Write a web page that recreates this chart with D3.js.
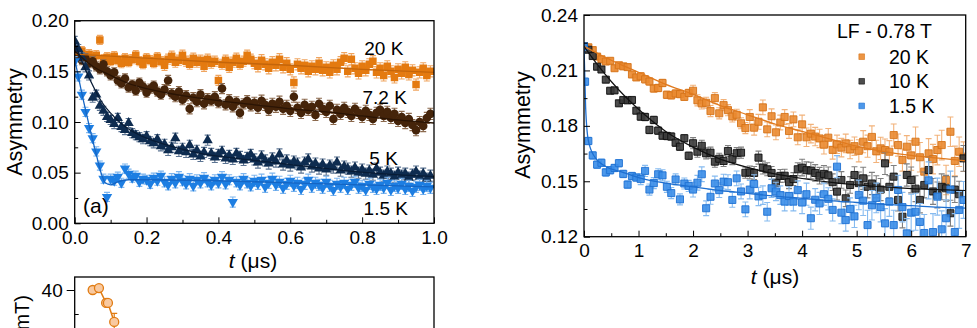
<!DOCTYPE html>
<meta charset="utf-8">
<style>
  body { margin: 0; background: #fff; }
  svg { display: block; font-family: "Liberation Sans", Arial, sans-serif; }
</style>
<svg width="977" height="328"></svg>
<script src="https://cdn.jsdelivr.net/npm/d3@7"></script>
<script>

// ---------- panel (a): zero field, 0 - 1 us, bins of 0.01 us ----------
const tStepA = 0.01
const asyA_20K = [
  0.172, 0.168, 0.170, 0.165, 0.167, 0.163, 0.166, 0.181, 0.162, 0.164,
  0.160, 0.165, 0.161, 0.158, 0.163, 0.159, 0.162, 0.166, 0.160, 0.157,
  0.163, 0.161, 0.158, 0.164, 0.160, 0.156, 0.162, 0.165, 0.159, 0.161,
  0.166, 0.160, 0.157, 0.163, 0.159, 0.161, 0.155, 0.162, 0.158, 0.160,
  0.141, 0.157, 0.161, 0.154, 0.159, 0.163, 0.157, 0.160, 0.166, 0.162,
  0.158, 0.155, 0.161, 0.157, 0.153, 0.159, 0.156, 0.162, 0.154, 0.158,
  0.152, 0.139, 0.157, 0.153, 0.156, 0.150, 0.155, 0.152, 0.158, 0.151,
  0.154, 0.149, 0.156, 0.152, 0.159, 0.163, 0.150, 0.162, 0.153, 0.148,
  0.155, 0.151, 0.157, 0.160, 0.149, 0.153, 0.146, 0.155, 0.150, 0.144,
  0.152, 0.148, 0.154, 0.147, 0.151, 0.137, 0.149, 0.153, 0.146, 0.150]
const asyA_7K = [
  0.172, 0.166, 0.161, 0.163, 0.158, 0.160, 0.155, 0.152, 0.157, 0.150,
  0.146, 0.149, 0.141, 0.138, 0.143, 0.134, 0.137, 0.131, 0.139, 0.135,
  0.129, 0.133, 0.136, 0.130, 0.127, 0.132, 0.141, 0.128, 0.125, 0.130,
  0.122, 0.126, 0.113, 0.124, 0.120, 0.127, 0.118, 0.123, 0.121, 0.125,
  0.119, 0.133, 0.117, 0.122, 0.115, 0.120, 0.109, 0.118, 0.121, 0.116,
  0.119, 0.114, 0.121, 0.117, 0.112, 0.118, 0.115, 0.120, 0.113, 0.116,
  0.111, 0.125, 0.114, 0.109, 0.117, 0.112, 0.115, 0.107, 0.118, 0.113,
  0.110, 0.116, 0.103, 0.112, 0.108, 0.114, 0.110, 0.106, 0.113, 0.109,
  0.105, 0.111, 0.107, 0.103, 0.109, 0.112, 0.106, 0.110, 0.104, 0.108,
  0.101, 0.105, 0.099, 0.103, 0.097, 0.092, 0.100, 0.096, 0.104, 0.108]
const asyA_5K = [
  0.180, 0.172, 0.164, 0.154, 0.146, 0.124, 0.127, 0.116, 0.111, 0.105,
  0.102, 0.098, 0.104, 0.095, 0.092, 0.099, 0.089, 0.087, 0.085, 0.083,
  0.086, 0.081, 0.079, 0.083, 0.076, 0.078, 0.072, 0.075, 0.084, 0.071,
  0.074, 0.070, 0.077, 0.068, 0.072, 0.066, 0.070, 0.082, 0.069, 0.065,
  0.068, 0.071, 0.064, 0.067, 0.063, 0.069, 0.066, 0.062, 0.065, 0.068,
  0.063, 0.060, 0.066, 0.062, 0.059, 0.064, 0.061, 0.068, 0.058, 0.062,
  0.057, 0.061, 0.059, 0.055, 0.060, 0.063, 0.056, 0.059, 0.054, 0.058,
  0.053, 0.057, 0.055, 0.060, 0.052, 0.056, 0.054, 0.051, 0.055, 0.050,
  0.053, 0.049, 0.052, 0.048, 0.054, 0.050, 0.047, 0.051, 0.049, 0.046,
  0.050, 0.047, 0.049, 0.045, 0.048, 0.051, 0.046, 0.049, 0.044, 0.047]
const asyA_1K = [
  0.160, 0.145, 0.127, 0.110, 0.094, 0.084, 0.071, 0.057, 0.044, 0.026,
  0.044, 0.042, 0.046, 0.040, 0.054, 0.049, 0.045, 0.047, 0.041, 0.044,
  0.043, 0.039, 0.045, 0.042, 0.047, 0.041, 0.038, 0.044, 0.040, 0.046,
  0.042, 0.039, 0.044, 0.037, 0.043, 0.040, 0.045, 0.041, 0.038, 0.043,
  0.040, 0.046, 0.039, 0.043, 0.021, 0.041, 0.038, 0.044, 0.040, 0.037,
  0.042, 0.039, 0.043, 0.036, 0.040, 0.044, 0.038, 0.041, 0.035, 0.039,
  0.042, 0.037, 0.040, 0.034, 0.039, 0.043, 0.036, 0.040, 0.038, 0.035,
  0.041, 0.037, 0.033, 0.039, 0.036, 0.040, 0.034, 0.038, 0.041, 0.035,
  0.037, 0.033, 0.039, 0.036, 0.034, 0.038, 0.035, 0.040, 0.033, 0.037,
  0.035, 0.039, 0.034, 0.037, 0.032, 0.036, 0.038, 0.034, 0.037, 0.035]
// error bar half-heights, one per quarter microsecond
const errA = [0.0045, 0.005, 0.0055, 0.0055]

// fitted curves
const fitA_20K_t = [0, 0.2, 0.4, 0.6, 0.8, 1.0]
const fitA_20K = [0.167, 0.163, 0.159, 0.156, 0.152, 0.149]
const fitA_7K_t = [0, 0.05, 0.1, 0.15, 0.2, 0.3, 0.4, 0.5, 0.6, 0.7, 0.8, 0.9, 1.0]
const fitA_7K = [0.170, 0.155, 0.146, 0.138, 0.133, 0.126, 0.121, 0.117, 0.113, 0.110, 0.106, 0.102, 0.099]
const fitA_5K_t = [0, 0.02, 0.045, 0.075, 0.11, 0.15, 0.2, 0.28, 0.35, 0.45, 0.55, 0.65, 0.75, 0.85, 1.0]
const fitA_5K = [0.178, 0.160, 0.140, 0.120, 0.105, 0.093, 0.084, 0.075, 0.069, 0.064, 0.060, 0.056, 0.052, 0.049, 0.046]
const fitA_1K_t = [0, 0.02, 0.04, 0.06, 0.075, 0.085, 0.1, 0.12, 0.15, 0.2, 0.4, 0.6, 0.8, 1.0]
const fitA_1K = [0.162, 0.128, 0.097, 0.068, 0.048, 0.040, 0.038, 0.041, 0.043, 0.043, 0.042, 0.040, 0.038, 0.036]

// ---------- panel (b): LF 0.78 T, 0 - 7 us, bins of 0.08 us ----------
const tStepB = 0.08
const asyB_20K = [
  0.2230, 0.2225, 0.2210, 0.2175, 0.2160, 0.2148, 0.2152, 0.2112,
  0.2128, 0.2122, 0.2118, 0.2078, 0.2062, 0.2068, 0.2052, 0.2040,
  0.2002, 0.2005, 0.2032, 0.1968, 0.1965, 0.1975, 0.1972, 0.1957,
  0.1978, 0.1990, 0.1938, 0.1921, 0.1925, 0.1880, 0.1950, 0.1868,
  0.1912, 0.1885, 0.1851, 0.1860, 0.1814, 0.1788, 0.1848, 0.1790,
  0.1822, 0.1900, 0.1781, 0.1852, 0.1765, 0.1818, 0.1848, 0.1772,
  0.1835, 0.1738, 0.1808, 0.1738, 0.1758, 0.1742, 0.1732, 0.1698,
  0.1736, 0.1670, 0.1700, 0.1682, 0.1705, 0.1672, 0.1690, 0.1665,
  0.1714, 0.1690, 0.1740, 0.1662, 0.1678, 0.1669, 0.1660, 0.1750,
  0.1696, 0.1615, 0.1687, 0.1640, 0.1714, 0.1630, 0.1552, 0.1651,
  0.1620, 0.1669, 0.1696, 0.1507, 0.1768, 0.1610, 0.1660, 0.1633]
const asyB_10K = [
  0.2230, 0.2212, 0.2178, 0.2120, 0.2105, 0.2050, 0.1990, 0.1992,
  0.1922, 0.1940, 0.1938, 0.1940, 0.1882, 0.1850, 0.1848, 0.1778,
  0.1832, 0.1774, 0.1747, 0.1745, 0.1742, 0.1709, 0.1687, 0.1733,
  0.1638, 0.1706, 0.1660, 0.1692, 0.1651, 0.1655, 0.1606, 0.1622,
  0.1610, 0.1664, 0.1620, 0.1652, 0.1655, 0.1546, 0.1548, 0.1545,
  0.1628, 0.1574, 0.1565, 0.1545, 0.1492, 0.1529, 0.1530, 0.1495,
  0.1512, 0.1565, 0.1574, 0.1560, 0.1558, 0.1545, 0.1530, 0.1540,
  0.1532, 0.1495, 0.1444, 0.1507, 0.1408, 0.1480, 0.1534, 0.1490,
  0.1516, 0.1470, 0.1488, 0.1470, 0.1455, 0.1597, 0.1470, 0.1525,
  0.1399, 0.1308, 0.1534, 0.1507, 0.1460, 0.1399, 0.1480, 0.1561,
  0.1445, 0.1426, 0.1470, 0.1462, 0.1327, 0.1455, 0.1430, 0.1624]
const asyB_1K = [
  0.2230, 0.1718, 0.1640, 0.1590, 0.1600, 0.1548, 0.1560, 0.1572,
  0.1598, 0.1540, 0.1482, 0.1528, 0.1520, 0.1512, 0.1556, 0.1455,
  0.1490, 0.1538, 0.1532, 0.1470, 0.1436, 0.1510, 0.1402, 0.1488,
  0.1475, 0.1455, 0.1492, 0.1538, 0.1354, 0.1416, 0.1488, 0.1452,
  0.1498, 0.1495, 0.1399, 0.1516, 0.1445, 0.1348, 0.1455, 0.1485,
  0.1418, 0.1425, 0.1335, 0.1462, 0.1445, 0.1425, 0.1390, 0.1420,
  0.1390, 0.1452, 0.1385, 0.1430, 0.1300, 0.1400, 0.1380, 0.1430,
  0.1405, 0.1345, 0.1579, 0.1330, 0.1290, 0.1350, 0.1310, 0.1426,
  0.1395, 0.1263, 0.1370, 0.1410, 0.1360, 0.1272, 0.1390, 0.1263,
  0.1453, 0.1360, 0.1218, 0.1330, 0.1335, 0.1280, 0.1220, 0.1505,
  0.1225, 0.1417, 0.1240, 0.1300, 0.1455, 0.1225, 0.1345, 0.1399]
// one extra early bin for 1.5 K
const asyB_1K_early_t = [0.02]
const asyB_1K_early = [0.2039]
// error bar half-heights, one per microsecond
const errB_20K = [0.0015, 0.002, 0.003, 0.004, 0.005, 0.006, 0.008]
const errB_10K = [0.0015, 0.002, 0.003, 0.0035, 0.0045, 0.006, 0.007]
const errB_1K = [0.002, 0.003, 0.004, 0.005, 0.006, 0.008, 0.010]

const fitB_t = [0, 0.25, 0.5, 0.75, 1, 1.5, 2, 2.5, 3, 3.5, 4, 4.5, 5, 5.5, 6, 6.5, 7]
const fitB_20K = [0.2230, 0.2192, 0.2155, 0.2122, 0.2090, 0.2025, 0.1970, 0.1910, 0.1860, 0.1810, 0.1770, 0.1730, 0.1690, 0.1660, 0.1640, 0.1625, 0.1610]
const fitB_10K = [0.2230, 0.2130, 0.2040, 0.1960, 0.1890, 0.1770, 0.1685, 0.1620, 0.1575, 0.1540, 0.1515, 0.1495, 0.1480, 0.1470, 0.1460, 0.1455, 0.1450]
const fitB_1K_t = [0, 0.03, 0.08, 0.2, 0.4, 0.7, 1, 1.5, 2, 2.5, 3, 3.5, 4, 4.5, 5, 5.5, 6, 6.5, 7]
const fitB_1K = [0.223, 0.190, 0.172, 0.163, 0.158, 0.155, 0.152, 0.149, 0.147, 0.145, 0.1435, 0.142, 0.1408, 0.1395, 0.1385, 0.1375, 0.1368, 0.136, 0.1355]

// ---------- lower panel (only its top edge is in the picture) ----------
const fieldT = [1.0, 1.35, 1.75, 1.85, 2.2]
const fieldB = [40.0, 40.8, 34.6, 34.6, 26.7]
const fieldErr = [0.8, 0.8, 1.2, 1.2, 3.6]

//*************************************************

const svg = d3.select("svg")
const FONT = "'Liberation Sans', Arial, sans-serif"

const xA = d3.scaleLinear([0, 1], [74.7, 434])
const yA = d3.scaleLinear([0, 0.2], [223.3, 20.7])
const xB = d3.scaleLinear([0, 7], [584, 965.7])
const yB = d3.scaleLinear([0.12, 0.24], [236.7, 15])
const xC = d3.scaleLinear([0, 20], [74.7, 434])
const yC = d3.scaleLinear([20, 40], [338, 290])

function points(times, vals, errs, errStep) {
  return times.map((t, i) => ({
    t, v: vals[i],
    e: errs[Math.min(errs.length - 1, Math.floor(t / errStep))]
  }))
}
const grid = (vals, step) => vals.map((d, i) => i * step)

function clip(id, x, y) {
  svg.append("clipPath").attr("id", id)
    .append("rect")
      .attr("x", x.range()[0]).attr("y", y.range()[1])
      .attr("width", x.range()[1] - x.range()[0])
      .attr("height", y.range()[0] - y.range()[1])
}

function drawSeries(g, x, y, data, o) {
  g.append("g")
      .attr("stroke", o.err)
      .attr("stroke-width", 1.1)
      .attr("fill", "none")
    .selectAll("path")
    .data(data)
    .join("path")
      .attr("d", d => {
        const px = x(d.t), y0 = y(d.v - d.e), y1 = y(d.v + d.e)
        return `M${px},${y0}V${y1}M${px - o.cap},${y1}H${px + o.cap}M${px - o.cap},${y0}H${px + o.cap}`
      })
  const sym = d3.symbol().type(o.type).size(o.size)
  g.append("g")
    .selectAll("path")
    .data(data)
    .join("path")
      .attr("d", sym)
      .attr("transform", d => `translate(${x(d.t)},${y(d.v)})${o.flip ? " rotate(180)" : ""}`)
      .attr("fill", o.color)
      .attr("fill-opacity", o.opacity || 1)
      .attr("stroke", o.stroke || "none")
      .attr("stroke-width", 0.9)
}

function drawFit(g, x, y, ts, vs, color, w) {
  g.append("path")
      .datum(ts.map((t, i) => [t, vs[i]]))
      .attr("fill", "none")
      .attr("stroke", color)
      .attr("stroke-width", w)
      .attr("d", d3.line().x(d => x(d[0])).y(d => y(d[1])).curve(d3.curveMonotoneX))
}

function styleAxis(sel) {
  sel.attr("font-size", 19).attr("font-family", FONT)
  sel.select(".domain").remove()
  sel.selectAll(".tick line").attr("stroke", "#000").attr("stroke-width", 1)
  sel.selectAll(".tick text").attr("fill", "#000")
}

function axes(x, y, o) {
  const g = svg.append("g")
  const y0 = y.range()[0], x0 = x.range()[0]
  g.append("g").attr("transform", `translate(0,${y0})`)
    .call(d3.axisBottom(x).tickValues(o.xMajor).tickSize(-6).tickPadding(7).tickFormat(o.xFmt))
    .call(styleAxis)
  g.append("g").attr("transform", `translate(0,${y0})`)
    .call(d3.axisBottom(x).tickValues(o.xMinor).tickSize(-3.5).tickFormat(""))
    .call(styleAxis)
  g.append("g").attr("transform", `translate(${x0},0)`)
    .call(d3.axisLeft(y).tickValues(o.yMajor).tickSize(-6).tickPadding(6).tickFormat(o.yFmt))
    .call(styleAxis)
  g.append("g").attr("transform", `translate(${x0},0)`)
    .call(d3.axisLeft(y).tickValues(o.yMinor).tickSize(-3.5).tickFormat(""))
    .call(styleAxis)
  svg.append("rect")
      .attr("x", x0).attr("y", y.range()[1])
      .attr("width", x.range()[1] - x0).attr("height", y0 - y.range()[1])
      .attr("fill", "none").attr("stroke", "#000").attr("stroke-width", 1.3)
}

function titles(xt, yt) {
  svg.append("text")
      .attr("x", xt[0]).attr("y", xt[1])
      .attr("text-anchor", "middle").attr("font-size", 21)
      .call(t => {
        t.append("tspan").attr("font-style", "italic").text("t")
        t.append("tspan").text(" (\u03bcs)")
      })
  svg.append("text")
      .attr("transform", `translate(${yt[0]},${yt[1]}) rotate(-90)`)
      .attr("text-anchor", "middle").attr("font-size", 21.5)
      .text("Asymmetry")
}

// ----- panel (a) -----
clip("clipA", xA, yA)
const gA = svg.append("g").attr("clip-path", "url(#clipA)")

const styleA = {
  k20: { type: d3.symbolSquare, size: 56, color: "#E47A10", err: "#F0A560", cap: 3 },
  k7: { type: d3.symbolCircle, size: 58, color: "#45240A", err: "#8C6A4E", cap: 3 },
  k5: { type: d3.symbolTriangle, size: 46, color: "#0E2C50", err: "#5C7492", cap: 3 },
  k1: { type: d3.symbolTriangle, size: 46, color: "#1D7EE2", err: "#7DB5EE", cap: 3, flip: true }
}

drawSeries(gA, xA, yA, points(grid(asyA_20K, tStepA), asyA_20K, errA, 0.25), styleA.k20)
drawSeries(gA, xA, yA, points(grid(asyA_7K, tStepA), asyA_7K, errA, 0.25), styleA.k7)
drawSeries(gA, xA, yA, points(grid(asyA_5K, tStepA), asyA_5K, errA, 0.25), styleA.k5)
drawSeries(gA, xA, yA, points(grid(asyA_1K, tStepA), asyA_1K, errA, 0.25), styleA.k1)

drawFit(gA, xA, yA, fitA_20K_t, fitA_20K, "#C4650A", 1.3)
drawFit(gA, xA, yA, fitA_7K_t, fitA_7K, "#2A1404", 1.3)
drawFit(gA, xA, yA, fitA_5K_t, fitA_5K, "#081C36", 1.3)
drawFit(gA, xA, yA, fitA_1K_t, fitA_1K, "#1465C4", 1.3)

axes(xA, yA, {
  xMajor: [0, 0.2, 0.4, 0.6, 0.8, 1.0], xMinor: [0.1, 0.3, 0.5, 0.7, 0.9], xFmt: d3.format(".1f"),
  yMajor: [0, 0.05, 0.1, 0.15, 0.2], yMinor: [0.025, 0.075, 0.125, 0.175], yFmt: d3.format(".2f")
})
titles([253, 268], [22, 122])

const labelsA = [
  { text: "20 K", t: 0.806, v: 0.166 },
  { text: "7.2 K", t: 0.801, v: 0.118 },
  { text: "5 K", t: 0.82, v: 0.0575 },
  { text: "1.5 K", t: 0.804, v: 0.0082 }
]
svg.append("g").attr("font-size", 19)
  .selectAll("text").data(labelsA).join("text")
    .attr("x", d => xA(d.t)).attr("y", d => yA(d.v))
    .text(d => d.text)
svg.append("text")
    .attr("x", xA(0.023)).attr("y", yA(0.0098))
    .attr("font-size", 21)
    .text("(a)")

// ----- panel (b) -----
clip("clipB", xB, yB)
const gB = svg.append("g").attr("clip-path", "url(#clipB)")

const styleB = {
  k20: { type: d3.symbolSquare, size: 50, color: "#EA8A30", stroke: "#D57318", err: "#F2B27A", cap: 3, opacity: 0.9 },
  k10: { type: d3.symbolSquare, size: 50, color: "#3A3A3A", stroke: "#111", err: "#808080", cap: 3, opacity: 0.9 },
  k1: { type: d3.symbolSquare, size: 50, color: "#3A8DE8", stroke: "#1E70D2", err: "#86BBF0", cap: 3, opacity: 0.9 }
}

const blueB = points(asyB_1K_early_t, asyB_1K_early, errB_1K, 1)
  .concat(points(grid(asyB_1K, tStepB), asyB_1K, errB_1K, 1))

drawSeries(gB, xB, yB, points(grid(asyB_20K, tStepB), asyB_20K, errB_20K, 1), styleB.k20)
drawSeries(gB, xB, yB, points(grid(asyB_10K, tStepB), asyB_10K, errB_10K, 1), styleB.k10)
drawSeries(gB, xB, yB, blueB, styleB.k1)

drawFit(gB, xB, yB, fitB_t, fitB_20K, "#E07A1E", 1.3)
drawFit(gB, xB, yB, fitB_t, fitB_10K, "#111", 1.2)
drawFit(gB, xB, yB, fitB_1K_t, fitB_1K, "#1E6FD0", 1.3)

axes(xB, yB, {
  xMajor: d3.range(0, 8), xMinor: [0.5, 1.5, 2.5, 3.5, 4.5, 5.5, 6.5], xFmt: d3.format("d"),
  yMajor: [0.12, 0.15, 0.18, 0.21, 0.24], yMinor: [0.135, 0.165, 0.195, 0.225], yFmt: d3.format(".2f")
})
titles([775, 284], [530, 125])

// legend
const legendB = [
  { text: "20 K", style: styleB.k20 },
  { text: "10 K", style: styleB.k10 },
  { text: "1.5 K", style: styleB.k1 }
]
const leg = svg.append("g").attr("font-size", 19.5)
leg.append("text").attr("x", 837).attr("y", 38).text("LF - 0.78 T")
const legRow = leg.selectAll("g").data(legendB).join("g")
    .attr("transform", (d, i) => `translate(0,${56.7 + i * 24.6})`)
legRow.append("path")
    .attr("d", d3.symbol().type(d3.symbolSquare).size(32))
    .attr("transform", "translate(861.7,0)")
    .attr("fill", d => d.style.color).attr("fill-opacity", 0.9)
    .attr("stroke", d => d.style.stroke).attr("stroke-width", 0.6)
legRow.append("text")
    .attr("x", 889).attr("y", 7)
    .text(d => d.text)

// ----- lower panel, cut off by the picture edge -----
const gC = svg.append("g")
gC.append("rect")
    .attr("x", xC.range()[0]).attr("y", 277)
    .attr("width", xC.range()[1] - xC.range()[0]).attr("height", 80)
    .attr("fill", "none").attr("stroke", "#000").attr("stroke-width", 1.3)
gC.append("g").attr("transform", `translate(${xC.range()[0]},0)`)
  .call(d3.axisLeft(yC).tickValues([40]).tickSize(8).tickPadding(4).tickFormat(d3.format("d")))
  .call(styleAxis)
gC.append("g").attr("transform", `translate(${xC.range()[0]},0)`)
  .call(d3.axisLeft(yC).tickValues([30]).tickSize(-4).tickFormat(""))
  .call(styleAxis)
gC.append("text")
    .attr("transform", "translate(29,295) rotate(-90)")
    .attr("text-anchor", "end").attr("font-size", 20)
    .text("B (mT)")

const fieldPts = fieldT.map((t, i) => ({ t, v: fieldB[i], e: fieldErr[i] }))
gC.append("g").attr("stroke", "#E07B12").attr("stroke-width", 1.2)
  .selectAll("path").data(fieldPts).join("path")
    .attr("d", d => `M${xC(d.t)},${yC(d.v - d.e)}V${yC(d.v + d.e)}M${xC(d.t) - 3},${yC(d.v + d.e)}H${xC(d.t) + 3}`)
gC.append("path")
    .datum(fieldPts)
    .attr("fill", "none").attr("stroke", "#E07B12").attr("stroke-width", 1.5)
    .attr("d", d3.line().x(d => xC(d.t)).y(d => yC(d.v)))
gC.append("g")
  .selectAll("circle").data(fieldPts).join("circle")
    .attr("cx", d => xC(d.t)).attr("cy", d => yC(d.v)).attr("r", 4.5)
    .attr("fill", "#F8C9A0").attr("stroke", "#E07B12").attr("stroke-width", 1.3)

</script>
